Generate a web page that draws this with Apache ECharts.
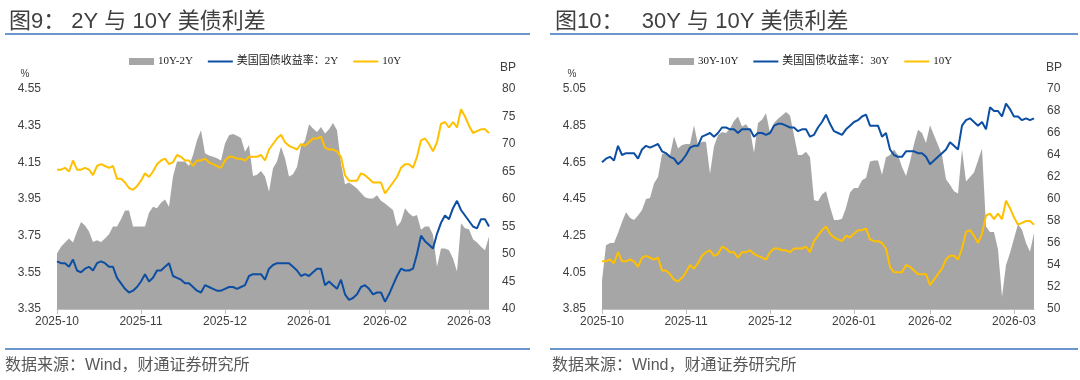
<!DOCTYPE html>
<html><head><meta charset="utf-8">
<script src="https://cdn.jsdelivr.net/npm/echarts@6/dist/echarts.min.js"></script>
<style>html,body{margin:0;padding:0;background:#fff}#c{width:1080px;height:380px}</style>
</head><body><div id="c"></div>
<script>
// ---- data ----
const xLabels = ['2025-10','2025-11','2025-12','2026-01','2026-02','2026-03'];
const xLabelIdx = [0,21,42,63,82,103];

// US 10Y yield (%)
const y10 = [
4.11,4.11,4.12,4.10,4.16,4.11,4.11,4.12,4.11,4.08,
4.13,4.14,4.13,4.12,4.13,4.06,4.06,4.04,4.01,4.00,
4.02,4.05,4.09,4.07,4.10,4.14,4.16,4.17,4.14,4.15,
4.19,4.18,4.16,4.16,4.13,4.16,4.16,4.17,4.15,4.14,
4.13,4.12,4.16,4.18,4.18,4.17,4.17,4.16,4.18,4.18,
4.18,4.19,4.16,4.22,4.25,4.28,4.30,4.26,4.24,4.23,
4.22,4.25,4.24,4.26,4.28,4.28,4.29,4.23,4.22,4.22,
4.21,4.18,4.08,4.05,4.05,4.05,4.09,4.08,4.06,4.04,
4.04,4.04,3.98,4.01,4.04,4.07,4.12,4.14,4.14,4.12,
4.18,4.27,4.28,4.25,4.21,4.26,4.36,4.37,4.34,4.37,
4.34,4.44,4.40,4.35,4.31,4.32,4.33,4.33,4.31];

// US 2Y yield (%)
const y2 = [
3.61,3.60,3.60,3.58,3.62,3.56,3.55,3.57,3.58,3.56,
3.60,3.61,3.60,3.58,3.58,3.52,3.49,3.46,3.44,3.45,
3.47,3.50,3.54,3.50,3.52,3.56,3.56,3.58,3.60,3.53,
3.52,3.51,3.49,3.49,3.47,3.45,3.44,3.48,3.47,3.46,
3.45,3.45,3.46,3.47,3.47,3.46,3.47,3.48,3.53,3.54,
3.54,3.54,3.51,3.57,3.59,3.60,3.60,3.60,3.60,3.58,
3.56,3.53,3.54,3.53,3.55,3.57,3.57,3.48,3.50,3.48,
3.46,3.51,3.43,3.40,3.41,3.43,3.47,3.48,3.46,3.43,
3.44,3.44,3.39,3.43,3.48,3.53,3.57,3.56,3.56,3.57,
3.65,3.75,3.72,3.70,3.68,3.76,3.82,3.86,3.84,3.90,
3.94,3.89,3.86,3.83,3.80,3.79,3.84,3.84,3.80];

// 10Y-2Y spread (BP)
const spread10_2 = [
50.1,51.3,52.1,52.8,52.1,54.1,55.8,55.2,54.1,52.2,
52.5,52.2,52.8,53.6,55.0,55.0,56.3,57.9,57.9,55.0,
55.0,55.0,55.0,57.5,58.6,58.3,59.3,59.9,58.6,64.1,
66.8,66.8,66.8,66.0,68.0,70.7,72.5,68.3,67.9,67.7,
67.4,67.0,70.1,71.6,71.8,71.5,71.1,68.6,69.8,64.2,
64.4,65.1,64.1,61.3,65.6,66.8,69.5,67.4,64.1,64.5,
65.8,69.6,70.6,73.6,72.8,72.2,73.1,71.9,72.7,73.8,
72.5,66.5,62.7,63.0,62.5,61.9,61.1,60.3,60.1,60.1,
60.7,59.7,59.2,58.6,58.0,55.0,55.9,58.3,57.4,56.8,
57.1,54.4,55.0,55.0,53.5,47.7,51.0,51.0,50.7,49.2,
46.8,55.6,54.7,54.5,52.7,52.1,51.3,50.7,53.2];

// US 30Y yield (%)
const y30 = [
4.65,4.67,4.68,4.66,4.74,4.69,4.70,4.70,4.70,4.67,
4.72,4.74,4.73,4.74,4.75,4.71,4.70,4.68,4.67,4.64,
4.66,4.69,4.73,4.74,4.74,4.79,4.80,4.81,4.79,4.81,
4.84,4.84,4.83,4.83,4.81,4.83,4.83,4.83,4.79,4.81,
4.81,4.80,4.81,4.85,4.86,4.86,4.85,4.84,4.84,4.82,
4.83,4.83,4.79,4.80,4.84,4.87,4.91,4.86,4.82,4.81,
4.80,4.83,4.85,4.87,4.88,4.90,4.91,4.85,4.85,4.85,
4.79,4.81,4.72,4.69,4.68,4.68,4.71,4.71,4.71,4.70,
4.70,4.68,4.64,4.66,4.68,4.70,4.72,4.76,4.74,4.72,
4.85,4.88,4.89,4.87,4.85,4.87,4.83,4.95,4.93,4.93,
4.90,4.97,4.94,4.90,4.90,4.88,4.89,4.88,4.89];

// 30Y-10Y spread (BP)
const spread30_10 = [
52.6,55.8,56.0,56.0,56.9,57.9,58.8,58.3,58.1,58.5,
59.0,60.0,60.1,61.4,62.0,64.1,64.2,64.0,65.7,64.6,
64.9,65.0,65.0,66.7,64.9,65.2,65.2,62.3,64.8,65.8,
66.1,66.0,66.4,67.1,67.5,66.6,66.8,66.3,64.2,66.9,
67.2,67.8,66.0,66.9,67.3,67.6,67.9,67.6,65.8,64.0,
64.0,64.3,63.8,59.9,59.8,60.4,60.7,59.3,58.1,58.1,
58.2,59.2,60.6,61.0,61.0,61.7,61.9,63.4,63.5,63.5,
62.2,63.8,64.0,64.5,64.0,62.9,62.1,63.4,65.0,66.3,
66.0,65.1,66.7,65.8,64.9,64.0,61.8,61.3,60.7,60.5,
64.5,61.6,62.0,62.4,63.5,64.6,57.5,57.0,57.0,55.4,
51.1,54.0,55.1,56.4,57.7,57.2,56.0,55.2,56.9];

// ---- build ----
const N = y10.length;
const categories = Array.from({length: N}, (_, i) => {
  const k = xLabelIdx.indexOf(i);
  return k >= 0 ? xLabels[k] : ('#' + i);
});
const isLabel = (i) => xLabelIdx.indexOf(i) >= 0;

const SANS = '"Liberation Sans", Arial, "Noto Sans CJK SC", sans-serif';
const SERIF = '"Liberation Serif", "Times New Roman", "Noto Sans CJK SC", serif';
const GRAY = '#a6a6a6', BLUE = '#0c4ea2', YELLOW = '#ffc000';
const TXT = '#404040';
const LINE_ICON = 'path://M0,0H25V2H0Z';

function xAxis(g) {
  return {
    type: 'category', gridIndex: g, data: categories, boundaryGap: false,
    axisLine: { lineStyle: { color: '#bfbfbf', width: 1 } },
    axisTick: { interval: (i) => isLabel(i), length: 5, lineStyle: { color: '#bfbfbf' } },
    axisLabel: { interval: (i) => isLabel(i), color: TXT, fontSize: 12, fontFamily: SANS, margin: 7 },
    splitLine: { show: false }
  };
}
function yAxis(g, pos, min, max, step, dec, margin) {
  return {
    type: 'value', gridIndex: g, position: pos, min: min, max: max, interval: step,
    axisLine: { show: false }, axisTick: { show: false }, splitLine: { show: false },
    axisLabel: { color: TXT, fontSize: 12, fontFamily: SANS, margin: margin,
      formatter: (v) => dec ? v.toFixed(dec) : String(Math.round(v)) }
  };
}
function area(name, xi, yi, data) {
  return { name, type: 'line', xAxisIndex: xi, yAxisIndex: yi, data, symbol: 'none',
    lineStyle: { width: 0, opacity: 0 }, itemStyle: { color: GRAY },
    areaStyle: { color: GRAY, opacity: 1, origin: 'start' }, z: 1, silent: true };
}
function line(name, xi, yi, data, color) {
  return { name, type: 'line', xAxisIndex: xi, yAxisIndex: yi, data, symbol: 'none',
    lineStyle: { width: 2, color }, itemStyle: { color }, z: 3, silent: true };
}
function legend(left, names) {
  return { left, top: 56, padding: 0, itemWidth: 25, itemHeight: 7, itemGap: 15,
    selectedMode: false, symbolKeepAspect: true,
    textStyle: { fontFamily: SERIF, fontSize: 11, color: '#222', padding: [0, 0, 0, -1] },
    data: [{ name: names[0], icon: 'rect' }, { name: names[1], icon: LINE_ICON }, { name: names[2], icon: LINE_ICON }] };
}
function txt(x, y, text, size, color, align) {
  return { type: 'text', x, y, silent: true,
    style: { text, fontSize: size, fontFamily: SANS, fill: color, align: align || 'left', verticalAlign: 'middle' } };
}
function hline(x1, x2, y) {
  return { type: 'line', silent: true, shape: { x1, y1: y, x2, y2: y }, style: { stroke: '#3b74bd', lineWidth: 1.5 } };
}

const chart = echarts.init(document.getElementById('c'), null, { renderer: 'canvas' });
chart.setOption({
  animation: false,
  backgroundColor: '#fff',
  title: [
    { text: '图9： 2Y 与 10Y 美债利差', left: 4, top: 6, textStyle: { fontSize: 22, fontWeight: 'normal', color: TXT, fontFamily: SANS } },
    { text: '图10：   30Y 与 10Y 美债利差', left: 550, top: 6, textStyle: { fontSize: 22, fontWeight: 'normal', color: TXT, fontFamily: SANS } }
  ],
  legend: [
    legend(129, ['10Y-2Y', '美国国债收益率：2Y', '10Y']),
    legend(669, ['30Y-10Y', '美国国债收益率：30Y', '10Y'])
  ],
  grid: [
    { left: 57, top: 89, width: 432, height: 220 },
    { left: 602, top: 89, width: 432, height: 220 }
  ],
  xAxis: [xAxis(0), xAxis(1)],
  yAxis: [
    yAxis(0, 'left', 3.35, 4.55, 0.2, 2, 16),
    yAxis(0, 'right', 40, 80, 5, 0, 13),
    yAxis(1, 'left', 3.85, 5.05, 0.2, 2, 16),
    yAxis(1, 'right', 50, 70, 2, 0, 13)
  ],
  series: [
    area('10Y-2Y', 0, 1, spread10_2),
    line('美国国债收益率：2Y', 0, 0, y2, BLUE),
    line('10Y', 0, 0, y10, YELLOW),
    area('30Y-10Y', 1, 3, spread30_10),
    line('美国国债收益率：30Y', 1, 2, y30, BLUE),
    line('10Y', 1, 2, y10, YELLOW)
  ],
  graphic: [
    hline(5, 530, 34), hline(550, 1078, 34),
    hline(5, 530, 349), hline(550, 1078, 349),
    txt(25, 74, '%', 10, TXT, 'center'), txt(508, 68, 'BP', 12, TXT, 'center'),
    txt(572, 74, '%', 10, TXT, 'center'), txt(1054, 68, 'BP', 12, TXT, 'center'),
    txt(5, 366, '数据来源：Wind，财通证券研究所', 16, '#595959'),
    txt(552, 366, '数据来源：Wind，财通证券研究所', 16, '#595959')
  ]
});
</script>
</body></html>
